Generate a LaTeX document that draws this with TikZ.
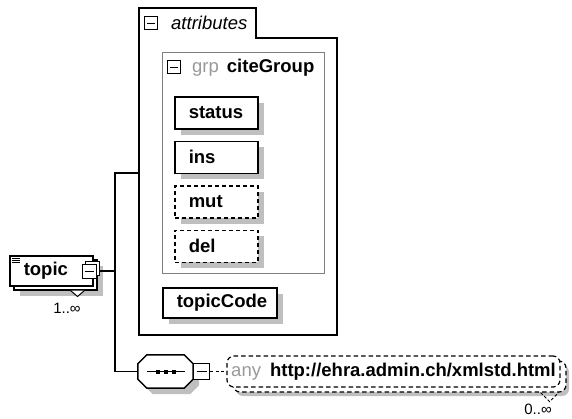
\documentclass[tikz,border=0pt]{standalone}
\usepackage{fontspec}
\setmainfont{Liberation Sans}
\usetikzlibrary{positioning,shadows}

\newcommand\tagfont{\fontsize{18.5}{20}\selectfont\bfseries}
\newcommand\plainfont{\fontsize{18.5}{20}\selectfont}
\newcommand\multfont{\fontsize{15}{16}\selectfont}
\newcommand\minusbar[1]{\rule[-0.5pt]{#1}{1pt}}
% octagon round a named node
\newcommand\octpath[1]{([xshift=9pt]#1.north west) -- ([xshift=-9pt]#1.north east)
  -- ([yshift=-9pt]#1.north east) -- ([yshift=9pt]#1.south east)
  -- ([xshift=-9pt]#1.south east) -- ([xshift=9pt]#1.south west)
  -- ([yshift=9pt]#1.south west) -- ([yshift=-9pt]#1.north west) -- cycle}

\tikzset{
  tagbox/.style={draw, fill=white, line width=1.5pt, anchor=north west,
    text width=#1, inner xsep=14pt, align=left, minimum height=32pt, font=\tagfont},
  optbox/.style={tagbox=#1, dash pattern=on 4pt off 3pt},
  grayshadow/.style={drop shadow={shadow xshift=#1, shadow yshift=-#1, fill=black!25, opacity=1}},
  grayshadow/.default=6pt,
  minusbox/.style={draw, fill=white, line width=1pt, minimum size=#1, inner sep=0pt},
  anybox/.style={draw, fill=white, line width=1.2pt, dash pattern=on 4.5pt off 3pt,
    rounded corners=7pt, minimum width=333pt, minimum height=31pt, inner sep=0pt,
    font=\plainfont, grayshadow=9pt,
    copy shadow={shadow xshift=6pt, shadow yshift=-5pt, draw=black, fill=white,
      line width=1.2pt, dash pattern=on 4.5pt off 3pt}},
  conn/.style={line width=1.2pt},
}

\begin{document}
\begin{tikzpicture}[x=1pt, y=-1pt]
\useasboundingbox (0,0) rectangle (572,418);

% attributes container
\draw[line width=1.5pt] (139,335) -- (139,8) -- (256,8) -- (256,38) -- (337,38) -- (337,335) -- cycle;
\node[minusbox=13pt] (attrminus) at (151,23) {\minusbar{8pt}};
\node[anchor=west, inner sep=0pt, font=\plainfont\itshape] (attrtitle) at (171,23) {attributes};

% group
\draw[black!50, line width=1pt] (162,52) rectangle (324,273);
\node[minusbox=13pt] (grpminus) at (174,67) {\minusbar{8pt}};
\node[anchor=west, inner sep=0pt, font=\plainfont] (grptitle) at (192,68)
  {\textcolor{black!40}{grp}\hspace{8pt}\textbf{citeGroup}};

\node[tagbox=55pt, grayshadow] (status) at (174,96) {status};
\node[tagbox=55pt, grayshadow, below=11pt of status] (ins) {ins};
\node[optbox=55pt, grayshadow, below=11pt of ins] (mut) {mut};
\node[optbox=55pt, grayshadow, below=11pt of mut] (del) {del};
\node[tagbox=86pt, minimum height=30pt, grayshadow] (topiccode) at (162,287) {topicCode};

% topic element
\node[tagbox=55pt, minimum height=30pt, grayshadow=10pt,
  copy shadow={shadow xshift=4pt, shadow yshift=-4pt, draw=black, fill=white, line width=1.5pt}]
  (topic) at (9,255) {topic};
\foreach \dy in {3,5,7}
  \draw[line width=.7pt] ([shift={(3,\dy)}]topic.north west) -- ++(8,0);
\draw[line width=1pt, fill=white] ([shift={(-23,4)}]topic.south east) -- ++(7,6) -- ++(7,-6);
\node[minusbox=14pt,
  copy shadow={shadow xshift=3pt, shadow yshift=3pt, draw=black, fill=white, line width=1pt}]
  (topicminus) at (89,271) {\minusbar{9pt}};
\node[font=\multfont, inner sep=0pt] (topicmult) at (67,308) {1..∞};

% sequence
\node[minimum width=55pt, minimum height=33pt, inner sep=0pt] (seq) at (165.5,371.5) {};
\draw[line width=1.5pt, fill=white, grayshadow] \octpath{seq};
\draw[line width=1pt] ([xshift=9pt]seq.west) -- ([xshift=-8pt]seq.east);
\foreach \dx in {-8,0,8}
  \fill ([xshift=\dx pt]seq.center) +(-2,-2) rectangle +(2,2);
\node[minusbox=16pt, anchor=west] (seqminus) at (seq.east) {\minusbar{10pt}};

% any
\node[anybox] (any) at (393.5,371.5)
  {\textcolor{black!40}{any}\hspace{9pt}\textbf{http://ehra.admin.ch/xmlstd.html}};
\draw[line width=1pt, dash pattern=on 3pt off 2pt] ([shift={(-20,5)}]any.south east) -- ++(9,9) -- ++(9,-9);
\node[font=\multfont, inner sep=0pt] (anymult) at (538,409) {0..∞};

% connectors
\coordinate (attrin) at (139,173);
\coordinate (fork) at (115,271);
\draw[conn] ([xshift=3pt]topicminus.east) -- (fork);
\draw[conn] (attrin) -| (fork) |- (seq.west);
\draw[conn, dash pattern=on 3pt off 2.5pt] (seqminus.east) -- (any.west);
\end{tikzpicture}
\end{document}
